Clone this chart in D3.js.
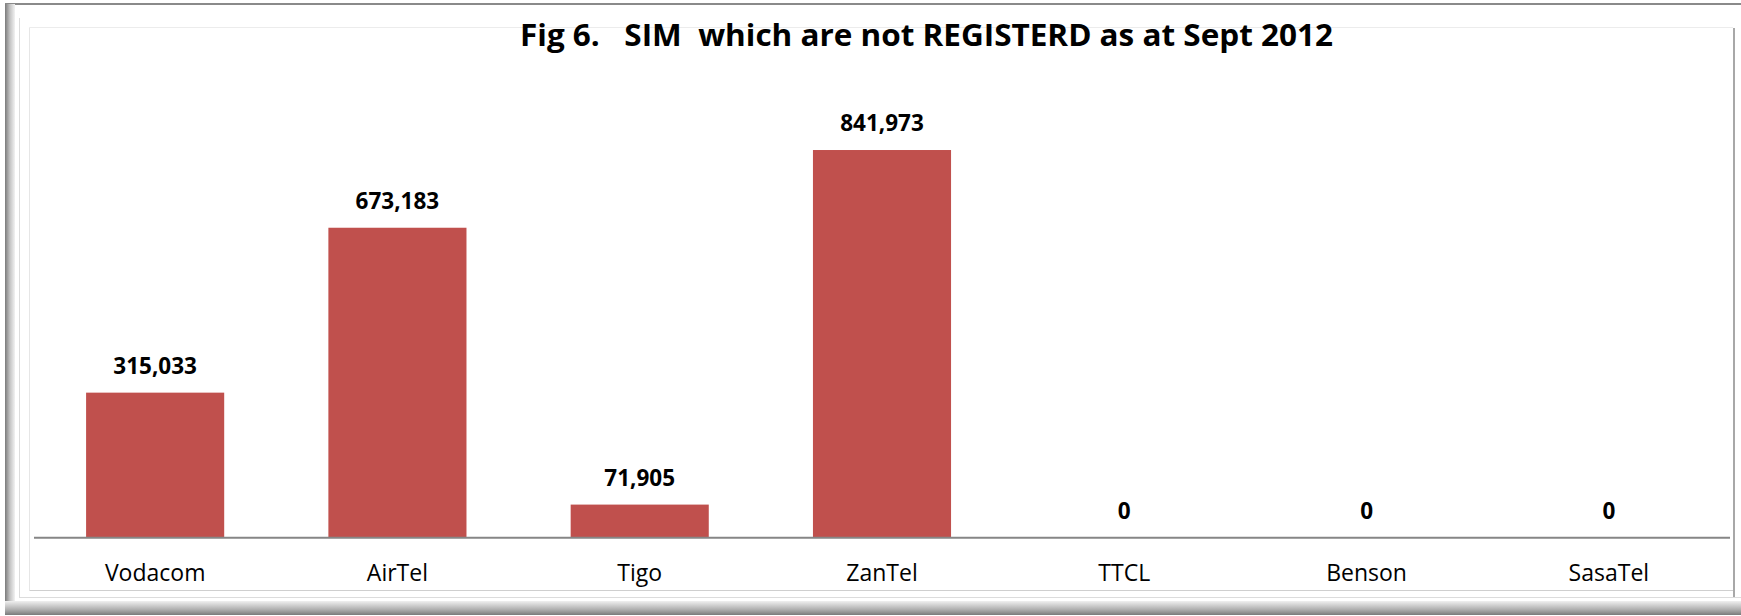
<!DOCTYPE html>
<html>
<head>
<meta charset="utf-8">
<script src="https://cdn.jsdelivr.net/npm/d3@7"></script>
<style>
html,body{margin:0;padding:0;background:#fff;}
svg{display:block;}
</style>
</head>
<body>
<svg id="chart" width="1741" height="616"></svg>
<script>
const categories = ["Vodacom", "AirTel", "Tigo", "ZanTel", "TTCL", "Benson", "SasaTel"];
const values = [315033, 673183, 71905, 841973, 0, 0, 0];
const title = "Fig 6.   SIM  which are not REGISTERD as at Sept 2012";

const W = 1741, H = 616;
const svg = d3.select("#chart");
const defs = svg.append("defs");

// frame gradients
const gl = defs.append("linearGradient").attr("id","gLeft").attr("x1","0").attr("x2","1").attr("y1","0").attr("y2","0");
gl.append("stop").attr("offset","0").attr("stop-color","#7a7a7a");
gl.append("stop").attr("offset","0.5").attr("stop-color","#c4c4c4");
gl.append("stop").attr("offset","1").attr("stop-color","#f2f2f2");
const gb = defs.append("linearGradient").attr("id","gBot").attr("x1","0").attr("x2","0").attr("y1","0").attr("y2","1");
gb.append("stop").attr("offset","0").attr("stop-color","#f0f0f0");
gb.append("stop").attr("offset","0.6").attr("stop-color","#b0b0b0");
gb.append("stop").attr("offset","1").attr("stop-color","#7a7a7a");

svg.append("rect").attr("x",0).attr("y",0).attr("width",W).attr("height",H).attr("fill","#fff");
// outer frame
svg.append("rect").attr("x",5).attr("y",3).attr("width",W-5).attr("height",2).attr("fill","#8a8a8a");
svg.append("rect").attr("x",5).attr("y",4).attr("width",10).attr("height",611).attr("fill","url(#gLeft)");
svg.append("rect").attr("x",5).attr("y",601).attr("width",W-5).attr("height",14).attr("fill","url(#gBot)");
svg.append("line").attr("x1",19.5).attr("x2",19.5).attr("y1",18).attr("y2",597).attr("stroke","#dcdcdc").attr("stroke-width",1);
svg.append("line").attr("x1",19).attr("x2",W).attr("y1",597.5).attr("y2",597.5).attr("stroke","#dcdcdc").attr("stroke-width",1);
// inner chart border
svg.append("line").attr("x1",29.5).attr("x2",1733).attr("y1",27.5).attr("y2",27.5).attr("stroke","#ececec");
svg.append("line").attr("x1",29.5).attr("x2",29.5).attr("y1",27.5).attr("y2",590.5).attr("stroke","#e6e6e6");
svg.append("line").attr("x1",29.5).attr("x2",1734).attr("y1",590.5).attr("y2",590.5).attr("stroke","#cfcfcf");
svg.append("line").attr("x1",1734).attr("x2",1734).attr("y1",28).attr("y2",597).attr("stroke","#a8a8a8").attr("stroke-width",2);

// scales
const x = d3.scaleBand().domain(categories).range([34, 1730]).paddingInner(0.43).paddingOuter(0.215);
const y = d3.scaleLinear().domain([0, 900000]).range([537.7, 123.3]);

// bars
svg.append("g").selectAll("rect").data(categories).join("rect")
  .attr("x", d => x(d))
  .attr("width", x.bandwidth())
  .attr("y", (d,i) => y(values[i]))
  .attr("height", (d,i) => y(0) - y(values[i]))
  .attr("fill", "#C0504D");

// axis
const xAxis = d3.axisBottom(x).tickSize(0).tickPadding(0);
const ax = svg.append("g").attr("transform", `translate(0,${y(0)})`).call(xAxis);
ax.select(".domain").attr("stroke","#868686").attr("stroke-width",2).attr("d","M34,0H1730");
ax.selectAll(".tick text")
  .attr("y", 43.3).attr("dy", 0)
  .attr("font-family","'Open Sans', sans-serif")
  .attr("font-size", 23)
  .attr("fill","#000");

// value labels
const fmt = d3.format(",");
svg.append("g").selectAll("text").data(categories).join("text")
  .attr("x", d => x(d) + x.bandwidth()/2)
  .attr("y", (d,i) => y(values[i]) - 19)
  .attr("text-anchor","middle")
  .attr("font-family","'Open Sans', sans-serif")
  .attr("font-weight","bold")
  .attr("font-size", 22.5)
  .attr("fill","#000")
  .text((d,i) => fmt(values[i]));

// title
svg.append("text")
  .attr("x", 520).attr("y", 46)
  .attr("font-family","'Open Sans', sans-serif")
  .attr("font-weight","bold")
  .attr("font-size", 31)
  .attr("fill","#000")
  .style("white-space","pre")
  .attr("textLength", 813)
  .attr("lengthAdjust","spacingAndGlyphs")
  .text(title);
</script>
</body>
</html>
